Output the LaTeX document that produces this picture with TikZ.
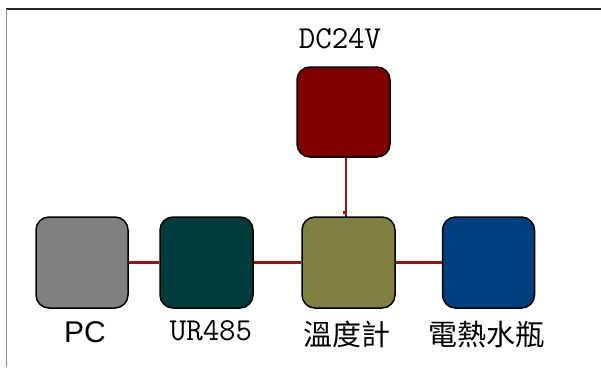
\documentclass[tikz,border=0pt]{standalone}
\usepackage{fontspec}
\newfontfamily\cjkfont{Noto Sans CJK TC}
\newfontfamily\arialfont{Liberation Sans}
\usetikzlibrary{arrows.meta,calc}
\definecolor{pcgray}{HTML}{808080}
\definecolor{urteal}{HTML}{003C3C}
\definecolor{tolive}{HTML}{808040}
\definecolor{kblue}{HTML}{004080}
\definecolor{dcred}{HTML}{800000}
\definecolor{wirered}{HTML}{A01010}
\tikzset{
  box/.style={draw=black, line width=1.5pt, rounded corners=13pt, minimum width=92pt, minimum height=91pt, inner sep=0pt},
  wire/.style={draw=wirered, line width=2.2pt},
  cjklabel/.style={font=\cjkfont\fontsize{29}{29}\selectfont, inner sep=0pt},
  ttlabel/.style={font=\ttfamily\fontsize{32}{32}\selectfont, inner sep=0pt},
  sflabel/.style={font=\arialfont\fontsize{30}{30}\selectfont, inner sep=0pt}
}
\begin{document}
\begin{tikzpicture}[x=1pt,y=-1pt]
\useasboundingbox (0,0) rectangle (601,367);
\fill[white] (0,0) rectangle (601,367);
\draw[line width=1.5pt, draw=black!85] (6,9) -- (601,9);
\draw[line width=1.5pt, draw=black!45] (6.5,9) -- (6.5,367);

\coordinate (dcout) at (345.7,157);
\coordinate (tempin) at (345.7,217);

\draw[wire] (dcout) -- (tempin);

\node[box, fill=pcgray] (pc) at (82,262.5) {};
\node[box, fill=urteal, minimum width=93pt] (ur) at (206.5,262.5) {};
\node[box, fill=tolive, minimum width=93pt] (temp) at (348.5,262.5) {};
\node[box, fill=kblue] (kettle) at (488.5,262.5) {};
\node[box, fill=dcred, minimum width=93pt, minimum height=90pt] (dc) at (343.5,112) {};

\draw[wire] (pc.east) -- (ur.west);
\draw[wire] (ur.east) -- (temp.west);
\draw[wire] (temp.east) -- (kettle.west);
\fill[wirered] (342.5,210.5) rectangle (345.5,214);

\node[sflabel] (pclabel) at (85,332) {PC};
\node[ttlabel] (urlabel) at (211,331) {UR485};
\node[cjklabel] (templabel) at (347,334) {溫度計};
\node[cjklabel] (kettlelabel) at (486,334) {電熱水瓶};
\node[ttlabel] (dclabel) at (340,39) {DC24V};
\end{tikzpicture}
\end{document}
